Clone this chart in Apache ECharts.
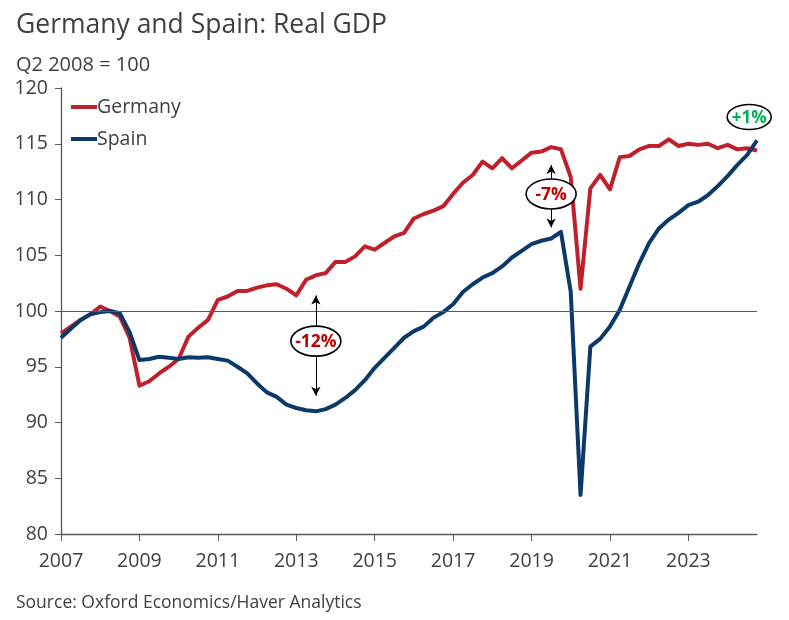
<!DOCTYPE html>
<html>
<head>
<meta charset="utf-8">
<script src="https://cdn.jsdelivr.net/npm/echarts@6/dist/echarts.min.js"></script>
<style>
html,body{margin:0;padding:0;background:#fff;}
#c{width:789px;height:620px;}
</style>
</head>
<body>
<div id="c"></div>
<script>
const quarters = [];
for (let y = 2007; y <= 2024; y++) for (let q = 1; q <= 4; q++) quarters.push(y + 'Q' + q);

const germany = [
  98.0, 98.6, 99.2, 99.7,
  100.4, 100.0, 99.5, 97.6,
  93.3, 93.7, 94.4, 95.0,
  95.7, 97.7, 98.5, 99.2,
  101.0, 101.3, 101.8, 101.8,
  102.1, 102.3, 102.4, 102.0,
  101.4, 102.8, 103.2, 103.4,
  104.4, 104.4, 104.9, 105.8,
  105.5, 106.1, 106.7, 107.0,
  108.3, 108.7, 109.0, 109.4,
  110.5, 111.5, 112.2, 113.4,
  112.8, 113.7, 112.8, 113.5,
  114.2, 114.3, 114.7, 114.5,
  112.0, 102.0, 111.0, 112.2,
  110.9, 113.8, 113.9, 114.5,
  114.8, 114.8, 115.4, 114.8,
  115.0, 114.9, 115.0, 114.6,
  114.9, 114.5, 114.6, 114.4
];

const spain = [
  97.6, 98.4, 99.2, 99.7,
  99.9, 100.0, 99.8, 98.1,
  95.6, 95.7, 95.9, 95.8,
  95.7, 95.85, 95.8, 95.85,
  95.7, 95.55, 95.0, 94.4,
  93.5, 92.7, 92.3, 91.6,
  91.3, 91.1, 91.0, 91.2,
  91.6, 92.2, 92.9, 93.8,
  94.9, 95.8, 96.7, 97.6,
  98.2, 98.6, 99.4, 99.9,
  100.6, 101.7, 102.4, 103.0,
  103.4, 104.0, 104.8, 105.4,
  106.0, 106.3, 106.5, 107.1,
  101.7, 83.5, 96.8, 97.5,
  98.6, 100.1, 102.2, 104.3,
  106.1, 107.4, 108.2, 108.8,
  109.5, 109.8, 110.4, 111.2,
  112.1, 113.1, 114.0, 115.3
];

const yTicks = { min: 80, max: 120, interval: 5 };

// annotations
const gapNotes = [
  { cat: '2013Q3', top: 101.4, bottom: 92.4, center: 97.3, text: '-12%', color: '#C00000' },
  { cat: '2019Q3', top: 113.1, bottom: 107.5, center: 110.5, text: '-7%', color: '#C00000' }
];
const endNote = { cat: '2024Q3', center: 117.4, text: '+1%', color: '#00B050' };

const FONT = '"Open Sans", "Noto Sans", sans-serif';
const TXT = '#404040';

const chart = echarts.init(document.getElementById('c'), null, { renderer: 'canvas' });

const arrowData = gapNotes.map(n => [
  { coord: [n.cat, n.top], symbol: 'arrow', symbolSize: [7, 9] },
  { coord: [n.cat, n.bottom], symbol: 'arrow', symbolSize: [7, 9] }
]);

const option = {
  animation: false,
  backgroundColor: '#ffffff',
  title: [
    { text: 'Germany and Spain: Real GDP', left: 11, top: 7,
      textStyle: { fontFamily: FONT, fontSize: 26.5, fontWeight: 'normal', color: TXT } },
    { text: 'Q2 2008 = 100', left: 11, top: 50,
      textStyle: { fontFamily: FONT, fontSize: 20, fontWeight: 'normal', color: TXT } },
    { text: 'Source: Oxford Economics/Haver Analytics', left: 11, top: 589,
      textStyle: { fontFamily: FONT, fontSize: 17.5, fontWeight: 'normal', color: TXT } }
  ],
  legend: {
    orient: 'vertical', left: 66, top: 92, itemGap: 12,
    itemWidth: 26, itemHeight: 4,
    icon: 'rect',
    textStyle: { fontFamily: FONT, fontSize: 19.5, color: TXT, padding: [0, 0, 0, -5] },
    data: ['Germany', 'Spain']
  },
  grid: { left: 61, right: 32, top: 88, bottom: 86, containLabel: false },
  xAxis: {
    type: 'category', data: quarters, boundaryGap: false,
    axisLine: { lineStyle: { color: '#595959', width: 1.3 } },
    axisTick: { show: true, interval: 7, length: 7, lineStyle: { color: '#595959' } },
    axisLabel: { interval: 7, margin: 17, fontFamily: FONT, fontSize: 19.5, color: TXT,
      formatter: v => v.slice(0, 4) },
    splitLine: { show: false }
  },
  yAxis: {
    type: 'value', min: yTicks.min, max: yTicks.max, interval: yTicks.interval,
    axisLine: { show: true, lineStyle: { color: '#595959', width: 1.3 } },
    axisTick: { show: true, length: 6, lineStyle: { color: '#595959' } },
    axisLabel: { margin: 13, fontFamily: FONT, fontSize: 19.5, color: TXT },
    splitLine: { show: false }
  },
  series: [
    {
      name: 'Germany', type: 'line', data: germany, showSymbol: false, symbol: 'none',
      lineStyle: { color: '#C0202B', width: 4, join: 'round' }, itemStyle: { color: '#C0202B' },
      z: 3,
      markLine: {
        silent: true, symbol: 'none', animation: false,
        label: { show: false },
        lineStyle: { color: '#595959', width: 1, type: 'solid' },
        data: [{ yAxis: 100 }]
      }
    },
    {
      name: 'Spain', type: 'line', data: spain, showSymbol: false, symbol: 'none',
      lineStyle: { color: '#0B3A6A', width: 4, join: 'round' }, itemStyle: { color: '#0B3A6A' },
      z: 4,
      markLine: {
        silent: true, animation: false,
        label: { show: false },
        lineStyle: { color: '#000000', width: 1, type: 'solid' },
        itemStyle: { color: '#000000' },
        data: arrowData
      }
    }
  ]
};

chart.setOption(option);

function noteGraphics(cat, val, rx, ry, text, color, fs, dx) {
  const p = chart.convertToPixel({ xAxisIndex: 0, yAxisIndex: 0 }, [cat, val]);
  const cx = p[0] + (dx || 0), cy = p[1];
  return [
    {
      type: 'ellipse', z: 100,
      shape: { cx: cx, cy: cy, rx: rx, ry: ry },
      style: { fill: '#ffffff', stroke: '#000000', lineWidth: 1.6 }
    },
    {
      type: 'text', z: 101, x: cx, y: cy + 1,
      style: { text: text, fill: color, fontFamily: FONT, fontWeight: 'bold', fontSize: fs,
        align: 'center', verticalAlign: 'middle' }
    }
  ];
}

let graphics = [];
gapNotes.forEach(n => { graphics = graphics.concat(noteGraphics(n.cat, n.center, 25, 15, n.text, n.color, 17.5)); });
graphics = graphics.concat(noteGraphics(endNote.cat, endNote.center, 22, 12.5, endNote.text, endNote.color, 17, 2));

chart.setOption({ graphic: graphics });
</script>
</body>
</html>
